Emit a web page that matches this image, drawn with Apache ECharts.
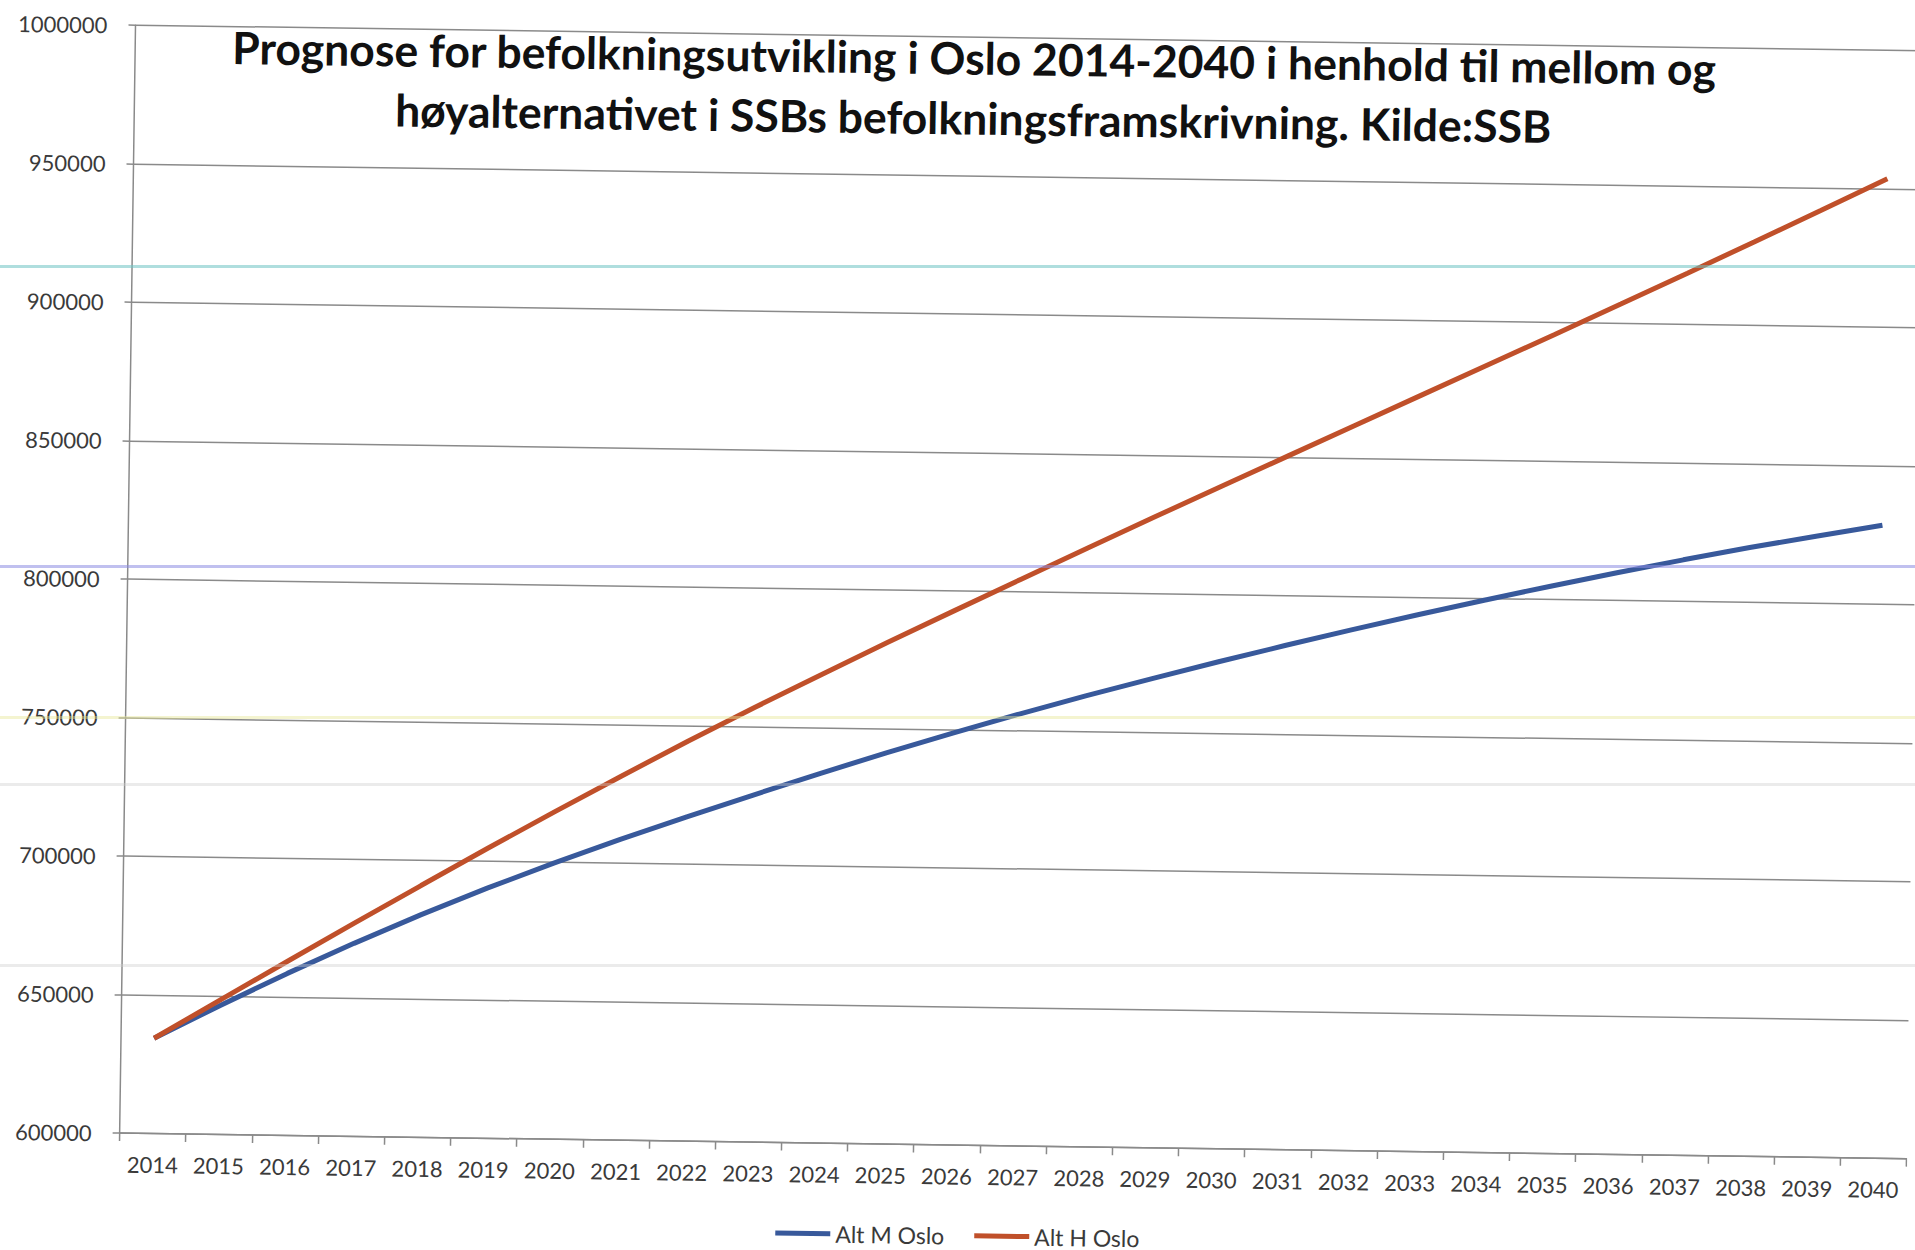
<!DOCTYPE html>
<html>
<head>
<meta charset="utf-8">
<script src="https://cdn.jsdelivr.net/npm/echarts@6/dist/echarts.min.js"></script>
<style>
  html, body { margin: 0; padding: 0; background: #ffffff; width: 1915px; height: 1250px; overflow: hidden; }
  #chart { position: absolute; left: 0; top: 0; width: 1915px; height: 1250px; transform: rotate(0.82deg); transform-origin: 50% 50%; }
  .scan { position: absolute; left: 0; width: 1915px; height: 3px; pointer-events: none; }
</style>
</head>
<body>
<div id="chart"></div>
<div class="scan" style="top:265px;background:rgba(110,195,195,0.55);"></div>
<div class="scan" style="top:565px;background:rgba(140,140,225,0.55);"></div>
<div class="scan" style="top:716px;background:rgba(230,230,150,0.45);"></div>
<div class="scan" style="top:783px;background:rgba(205,205,205,0.4);"></div>
<div class="scan" style="top:964px;background:rgba(205,205,205,0.4);"></div>
<script>
// Categories (years)
const years = ['2014','2015','2016','2017','2018','2019','2020','2021','2022','2023','2024','2025','2026','2027',
               '2028','2029','2030','2031','2032','2033','2034','2035','2036','2037','2038','2039','2040'];
// Series values
const altM = [634400, 646700, 658500, 669700, 680300, 690300, 699700, 708600, 717100, 725300, 733400, 741200, 748700, 755900,
              762800, 769400, 775800, 782000, 788000, 793800, 799400, 804800, 810000, 815000, 819800, 824200, 828500];
const altH = [634400, 648700, 662900, 677000, 690900, 704700, 718200, 731400, 744400, 756900, 769100, 781100, 792900, 804600,
              816200, 827700, 839100, 850400, 861700, 873000, 884300, 895600, 907000, 918500, 930100, 941800, 953600];
// Axis ticks
const yMin = 600000, yMax = 1000000, yStep = 50000;
const seriesNames = ['Alt M Oslo', 'Alt H Oslo'];
const titleLines = ['Prognose for befolkningsutvikling i Oslo 2014-2040 i henhold til mellom og',
                    'høyalternativet i SSBs befolkningsframskrivning. Kilde:SSB'];

const chart = echarts.init(document.getElementById('chart'), null, { renderer: 'svg' });
const fontFam = 'Lato, "Open Sans", sans-serif';
const titleStyle = { fontFamily: fontFam, fontWeight: 'bold', fontSize: 44.5, lineHeight: 52, color: '#111111' };
chart.setOption({
  backgroundColor: '#ffffff',
  animation: false,
  title: [
    { text: titleLines[0], left: 966, textAlign: 'center', top: 31, padding: 0, textStyle: titleStyle },
    { text: titleLines[1], left: 966, textAlign: 'center', top: 91, padding: 0, textStyle: titleStyle }
  ],
  legend: {
    data: seriesNames,
    left: 779,
    top: 1219,
    itemWidth: 55,
    itemHeight: 5,
    itemGap: 30,
    icon: 'rect',
    textStyle: { fontFamily: fontFam, fontSize: 23, color: '#3a3a3a' }
  },
  grid: { left: 127, top: 37, right: 1, bottom: 105, outerBoundsMode: 'none' },
  xAxis: {
    type: 'category',
    data: years,
    boundaryGap: true,
    axisLine: { show: true, lineStyle: { color: '#8a8a8a', width: 1.5 } },
    axisTick: { show: true, length: 8, lineStyle: { color: '#8a8a8a', width: 1.5 } },
    axisLabel: { interval: 0, margin: 20, fontFamily: fontFam, fontSize: 22, color: '#3a3a3a' },
    splitLine: { show: false }
  },
  yAxis: {
    type: 'value',
    min: yMin,
    max: yMax,
    interval: yStep,
    axisLine: { show: true, lineStyle: { color: '#8a8a8a', width: 1.5 } },
    axisTick: { show: true, length: 7, lineStyle: { color: '#8a8a8a', width: 1.5 } },
    axisLabel: { margin: 28, fontFamily: fontFam, fontSize: 22, color: '#3a3a3a', formatter: v => String(v) },
    splitLine: { show: true, lineStyle: { color: '#8a8a8a', width: 1.5 } }
  },
  series: [
    { name: seriesNames[0], type: 'line', data: altM, symbol: 'none', smooth: false,
      lineStyle: { color: '#38599b', width: 5 }, itemStyle: { color: '#38599b' } },
    { name: seriesNames[1], type: 'line', data: altH, symbol: 'none', smooth: false,
      lineStyle: { color: '#c0502a', width: 5 }, itemStyle: { color: '#c0502a' } }
  ]
});
</script>
</body>
</html>
